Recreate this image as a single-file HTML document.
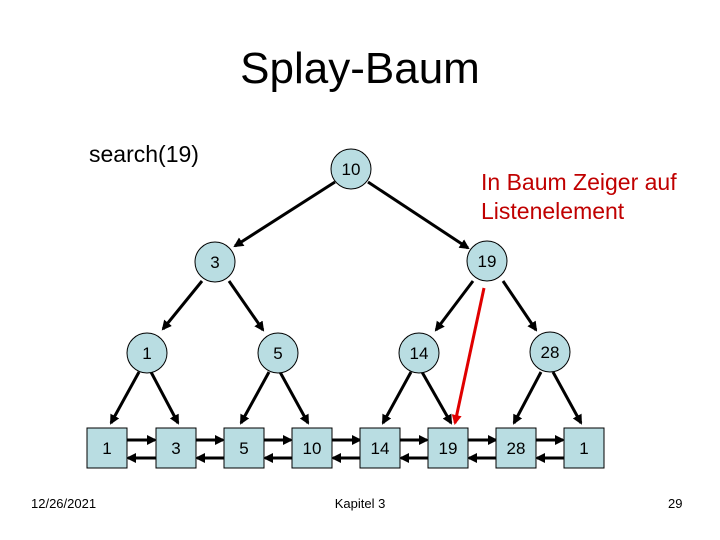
<!DOCTYPE html>
<html><head><meta charset="utf-8"><style>
html,body{margin:0;padding:0;background:#fff;}
svg{display:block;font-family:"Liberation Sans",Arial,sans-serif;}
</style></head><body>
<svg width="720" height="540" viewBox="0 0 720 540" xmlns="http://www.w3.org/2000/svg">
<defs>
<marker id="a" markerWidth="10" markerHeight="10" refX="8" refY="5" orient="auto" markerUnits="userSpaceOnUse"><path d="M0,0 L10,5 L0,10 z" fill="#000"/></marker>
<marker id="r" markerWidth="10" markerHeight="10" refX="8" refY="5" orient="auto" markerUnits="userSpaceOnUse"><path d="M0,0 L10,5 L0,10 z" fill="#e00000"/></marker>
</defs>
<text x="360" y="83" font-size="44" text-anchor="middle">Splay-Baum</text>
<text x="89" y="162" font-size="23">search(19)</text>
<text x="481" y="190" font-size="23" fill="#c00000">In Baum Zeiger auf</text>
<text x="481" y="219" font-size="23" fill="#c00000">Listenelement</text>
<g stroke="#000" stroke-width="3" marker-end="url(#a)">
<line x1="335" y1="182" x2="235" y2="246"/>
<line x1="368" y1="182" x2="468" y2="248"/>
<line x1="202" y1="281" x2="163" y2="329"/>
<line x1="229" y1="281" x2="263" y2="330"/>
<line x1="139" y1="372" x2="111" y2="423"/>
<line x1="151" y1="372" x2="178" y2="423"/>
<line x1="269" y1="372" x2="241" y2="423"/>
<line x1="280" y1="372" x2="308" y2="423"/>
<line x1="473" y1="281" x2="436" y2="330"/>
<line x1="503" y1="281" x2="536" y2="330"/>
<line x1="411" y1="372" x2="383" y2="423"/>
<line x1="422" y1="372" x2="451" y2="423"/>
<line x1="541" y1="372" x2="514" y2="423"/>
<line x1="553" y1="372" x2="581" y2="423"/>
</g>
<g stroke="#000" stroke-width="3" marker-end="url(#a)">
<line x1="127" y1="440" x2="155" y2="440"/><line x1="156" y1="458" x2="128" y2="458"/>
<line x1="196" y1="440" x2="223" y2="440"/><line x1="224" y1="458" x2="197" y2="458"/>
<line x1="264" y1="440" x2="291" y2="440"/><line x1="292" y1="458" x2="265" y2="458"/>
<line x1="332" y1="440" x2="360" y2="440"/><line x1="361" y1="458" x2="333" y2="458"/>
<line x1="400" y1="440" x2="427" y2="440"/><line x1="428" y1="458" x2="401" y2="458"/>
<line x1="468" y1="440" x2="496" y2="440"/><line x1="497" y1="458" x2="469" y2="458"/>
<line x1="536" y1="440" x2="563" y2="440"/><line x1="564" y1="458" x2="537" y2="458"/>
</g>
<line x1="484" y1="288" x2="455" y2="423" stroke="#e00000" stroke-width="3" marker-end="url(#r)"/>
<g fill="#b9dde2" stroke="#000" stroke-width="1">
<circle cx="351" cy="169" r="20"/><circle cx="215" cy="262" r="20"/><circle cx="487" cy="261" r="20"/>
<circle cx="147" cy="353" r="20"/><circle cx="278" cy="353" r="20"/><circle cx="419" cy="353" r="20"/><circle cx="550" cy="352" r="20"/>
<rect x="87" y="428" width="40" height="40"/><rect x="156" y="428" width="40" height="40"/>
<rect x="224" y="428" width="40" height="40"/><rect x="292" y="428" width="40" height="40"/>
<rect x="360" y="428" width="40" height="40"/><rect x="428" y="428" width="40" height="40"/>
<rect x="496" y="428" width="40" height="40"/><rect x="564" y="428" width="40" height="40"/>
</g>
<g font-size="17" text-anchor="middle">
<text x="351" y="175">10</text><text x="215" y="268">3</text><text x="487" y="267">19</text>
<text x="147" y="359">1</text><text x="278" y="359">5</text><text x="419" y="359">14</text><text x="550" y="358">28</text>
<text x="107" y="454">1</text><text x="176" y="454">3</text><text x="244" y="454">5</text><text x="312" y="454">10</text>
<text x="380" y="454">14</text><text x="448" y="454">19</text><text x="516" y="454">28</text><text x="584" y="454">1</text>
</g>
<g font-size="13">
<text x="31" y="508">12/26/2021</text>
<text x="360" y="508" text-anchor="middle">Kapitel 3</text>
<text x="668" y="508">29</text>
</g>
</svg>
</body></html>
